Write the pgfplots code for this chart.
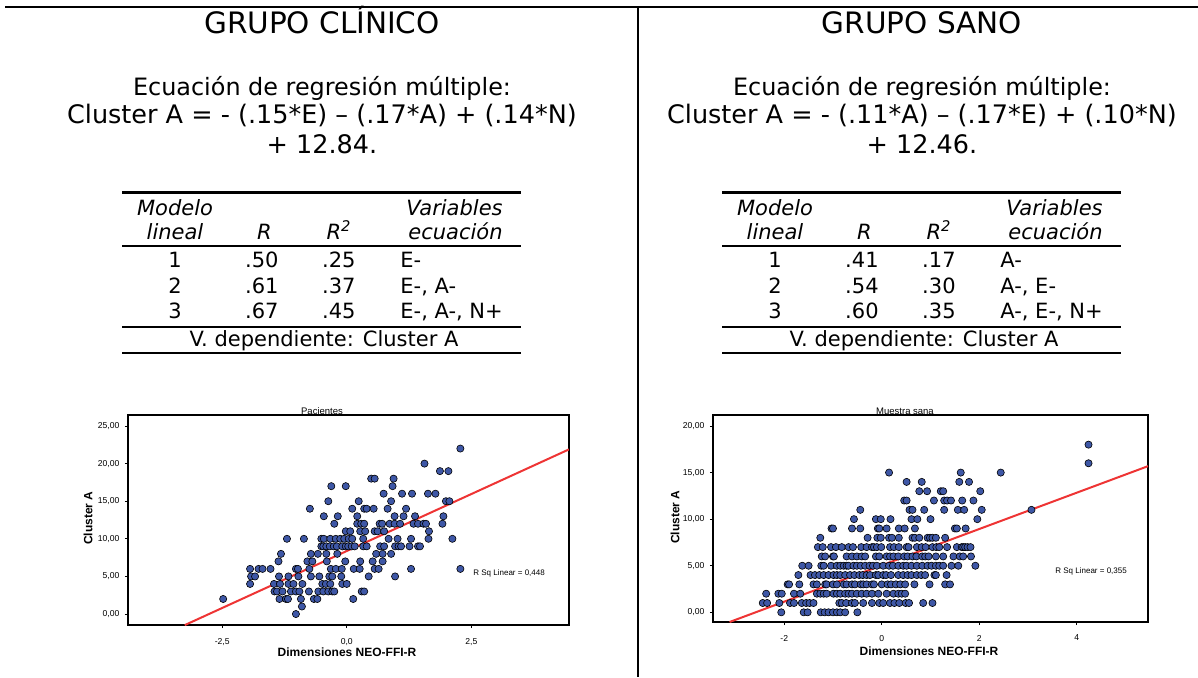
\documentclass[border=0pt]{standalone}
\usepackage{fontspec}
\setmainfont{DejaVu Sans}
\newfontfamily\arial{Liberation Sans}
\usepackage{pgfplots}
\usepackage{pgfplotstable}
\pgfplotsset{compat=1.18}

\definecolor{spssblue}{RGB}{62,87,166}
\definecolor{fitred}{RGB}{238,52,52}

% Grupo clinico: Dimensiones NEO-FFI-R (x) frente a Cluster A (y)
\pgfplotstableread[row sep=\\]{
x y\\
-1.02 0\\ -0.90 1\\
-2.48 2\\ -1.35 2\\ -1.22 2\\ -1.18 2\\ -0.92 2\\ -0.66 2\\ -0.59 2\\ 0.13 2\\
-1.45 3\\ -1.40 3\\ -1.29 3\\ -1.12 3\\ -1.02 3\\ -0.95 3\\ -0.76 3\\ -0.57 3\\ -0.47 3\\ -0.37 3\\ -0.29 3\\ -0.25 3\\ 0.30 3\\ 0.35 3\\
-1.94 4\\ -1.46 4\\ -1.34 4\\ -1.17 4\\ -1.07 4\\ -0.89 4\\ -0.49 4\\ -0.42 4\\ -0.33 4\\ -0.09 4\\ 0.00 4\\
-1.92 5\\ -1.84 5\\ -1.36 5\\ -1.17 5\\ -0.97 5\\ -0.72 5\\ -0.55 5\\ -0.35 5\\ -0.29 5\\ -0.11 5\\ 0.44 5\\ 0.97 5\\
-1.94 6\\ -1.77 6\\ -1.69 6\\ -1.53 6\\ -1.02 6\\ -0.98 6\\ -0.75 6\\ -0.32 6\\ -0.22 6\\ -0.10 6\\ 0.14 6\\ 0.26 6\\ 0.56 6\\ 0.64 6\\ 1.29 6\\ 2.28 6\\
-1.37 7\\ -0.79 7\\ -0.69 7\\ -0.40 7\\ -0.03 7\\ 0.27 7\\ 0.52 7\\ 0.72 7\\
-1.32 8\\ -0.72 8\\ -0.58 8\\ -0.41 8\\ -0.19 8\\ 0.59 8\\ 0.72 8\\ 0.89 8\\
-0.51 9\\ -0.47 9\\ -0.41 9\\ -0.34 9\\ -0.26 9\\ -0.20 9\\ -0.09 9\\ -0.02 9\\ 0.03 9\\ 0.10 9\\ 0.16 9\\ 0.33 9\\ 0.40 9\\ 0.67 9\\ 0.75 9\\ 0.97 9\\ 1.04 9\\ 1.09 9\\ 1.26 9\\ 1.43 9\\ 1.47 9\\
-1.20 10\\ -0.86 10\\ -0.51 10\\ -0.46 10\\ -0.33 10\\ -0.22 10\\ -0.13 10\\ -0.05 10\\ 0.04 10\\ 0.11 10\\ 0.33 10\\ 0.84 10\\ 1.02 10\\ 1.29 10\\ 1.64 10\\ 2.12 10\\
-0.02 11\\ 0.07 11\\ 0.27 11\\ 0.37 11\\ 0.56 11\\ 0.62 11\\ 0.75 11\\ 1.65 11\\
-0.25 12\\ 0.21 12\\ 0.29 12\\ 0.35 12\\ 0.66 12\\ 0.71 12\\ 0.86 12\\ 0.96 12\\ 1.07 12\\ 1.34 12\\ 1.43 12\\ 1.54 12\\ 1.59 12\\ 1.92 12\\
-0.46 13\\ -0.18 13\\ 0.21 13\\ 0.96 13\\ 1.14 13\\ 1.37 13\\ 1.94 13\\
-0.74 14\\ 0.11 14\\ 0.35 14\\ 0.40 14\\ 0.54 14\\ 0.82 14\\ 1.19 14\\
-0.37 15\\ 0.24 15\\ 0.89 15\\ 1.99 15\\ 2.06 15\\
0.74 16\\ 1.11 16\\ 1.31 16\\ 1.63 16\\ 1.78 16\\
-0.31 17\\ -0.02 17\\ 0.92 17\\
0.49 18\\ 0.56 18\\ 0.94 18\\
1.87 19\\ 2.04 19\\
1.56 20\\
2.28 22\\
}\clinico

% Grupo sano: Dimensiones NEO-FFI-R (x) frente a Cluster A (y)
\pgfplotstableread[row sep=\\]{
x y\\
-2.06 0\\ -1.60 0\\ -1.52 0\\ -1.25 0\\ -1.17 0\\ -1.09 0\\ -1.00 0\\ -0.92 0\\ -0.85 0\\ -0.75 0\\ -0.50 0\\
-2.44 1\\ -2.35 1\\ -2.10 1\\ -1.88 1\\ -1.80 1\\ -1.64 1\\ -1.55 1\\ -1.48 1\\ -1.40 1\\ -0.87 1\\ -0.82 1\\ -0.73 1\\ -0.61 1\\ -0.55 1\\ -0.38 1\\ -0.20 1\\ -0.05 1\\ 0.03 1\\ 0.17 1\\ 0.26 1\\ 0.36 1\\ 0.49 1\\ 0.56 1\\ 0.85 1\\ 1.04 1\\
-2.37 2\\ -2.12 2\\ -2.05 2\\ -1.80 2\\ -1.67 2\\ -1.33 2\\ -1.26 2\\ -1.19 2\\ -1.13 2\\ -0.99 2\\ -0.92 2\\ -0.85 2\\ -0.75 2\\ -0.68 2\\ -0.61 2\\ -0.51 2\\ -0.41 2\\ -0.31 2\\ -0.20 2\\ -0.07 2\\ 0.10 2\\ 0.24 2\\ 0.34 2\\ 0.41 2\\ 0.48 2\\
-1.93 3\\ -1.90 3\\ -1.69 3\\ -1.40 3\\ -1.33 3\\ -1.16 3\\ -1.13 3\\ -1.00 3\\ -0.92 3\\ -0.78 3\\ -0.72 3\\ -0.61 3\\ -0.55 3\\ -0.43 3\\ -0.38 3\\ -0.31 3\\ -0.20 3\\ -0.16 3\\ 0.00 3\\ 0.12 3\\ 0.19 3\\ 0.29 3\\ 0.38 3\\ 0.48 3\\ 0.67 3\\ 0.98 3\\ 1.30 3\\ 1.40 3\\
-1.71 4\\ -1.46 4\\ -1.37 4\\ -1.28 4\\ -1.19 4\\ -1.09 4\\ -0.99 4\\ -0.92 4\\ -0.85 4\\ -0.75 4\\ -0.65 4\\ -0.56 4\\ -0.46 4\\ -0.39 4\\ -0.31 4\\ -0.24 4\\ -0.12 4\\ -0.07 4\\ 0.03 4\\ 0.09 4\\ 0.19 4\\ 0.34 4\\ 0.44 4\\ 0.53 4\\ 0.61 4\\ 0.72 4\\ 0.81 4\\ 0.89 4\\ 1.08 4\\ 1.11 4\\ 1.33 4\\
-1.63 5\\ -1.50 5\\ -1.24 5\\ -1.19 5\\ -1.04 5\\ -0.92 5\\ -0.85 5\\ -0.78 5\\ -0.72 5\\ -0.68 5\\ -0.58 5\\ -0.51 5\\ -0.43 5\\ -0.34 5\\ -0.25 5\\ -0.18 5\\ -0.10 5\\ 0.03 5\\ 0.15 5\\ 0.23 5\\ 0.34 5\\ 0.44 5\\ 0.51 5\\ 0.61 5\\ 0.72 5\\ 0.83 5\\ 0.94 5\\ 1.02 5\\ 1.11 5\\ 1.18 5\\ 1.26 5\\ 1.43 5\\ 1.57 5\\ 1.92 5\\
-1.23 6\\ -1.16 6\\ -1.00 6\\ -0.98 6\\ -0.72 6\\ -0.61 6\\ -0.51 6\\ -0.41 6\\ -0.34 6\\ -0.12 6\\ -0.05 6\\ 0.10 6\\ 0.17 6\\ 0.24 6\\ 0.34 6\\ 0.46 6\\ 0.53 6\\ 0.63 6\\ 0.71 6\\ 0.83 6\\ 0.89 6\\ 0.96 6\\ 1.11 6\\ 1.26 6\\ 1.47 6\\ 1.60 6\\ 1.67 6\\ 1.83 6\\
-1.31 7\\ -1.21 7\\ -1.04 7\\ -0.94 7\\ -0.82 7\\ -0.68 7\\ -0.59 7\\ -0.42 7\\ -0.31 7\\ -0.20 7\\ -0.16 7\\ -0.10 7\\ -0.01 7\\ 0.17 7\\ 0.25 7\\ 0.35 7\\ 0.51 7\\ 0.55 7\\ 0.72 7\\ 0.82 7\\ 0.90 7\\ 1.04 7\\ 1.12 7\\ 1.18 7\\ 1.34 7\\ 1.54 7\\ 1.64 7\\ 1.67 7\\ 1.71 7\\ 1.76 7\\ 1.82 7\\
-1.26 8\\ -0.29 8\\ -0.09 8\\ -0.02 8\\ 0.15 8\\ 0.21 8\\ 0.35 8\\ 0.63 8\\ 0.68 8\\ 0.77 8\\ 0.94 8\\ 0.99 8\\ 1.04 8\\ 1.11 8\\ 1.30 8\\
-1.03 9\\ -1.00 9\\ -0.61 9\\ -0.44 9\\ -0.08 9\\ -0.05 9\\ 0.10 9\\ 0.35 9\\ 0.47 9\\ 0.68 9\\ 1.50 9\\ 1.54 9\\ 1.72 9\\
-0.57 10\\ -0.12 10\\ -0.02 10\\ 0.18 10\\ 0.61 10\\ 0.73 10\\ 1.00 10\\ 1.96 10\\
-0.44 11\\ 0.57 11\\ 0.63 11\\ 0.87 11\\ 1.28 11\\ 1.56 11\\ 1.69 11\\ 2.05 11\\ 3.07 11\\
0.46 12\\ 0.51 12\\ 1.07 12\\ 1.28 12\\ 1.34 12\\ 1.42 12\\ 1.65 12\\ 1.88 12\\
0.77 13\\ 0.93 13\\ 1.21 13\\ 1.26 13\\ 2.02 13\\
0.51 14\\ 0.82 14\\ 1.59 14\\ 1.79 14\\
0.15 15\\ 1.62 15\\ 2.44 15\\
4.24 16\\
4.24 18\\
}\sano

\pgfplotsset{
  spss/.style={
    scale only axis,
    axis line style={black, line width=0.6pt},
    tick align=outside,
    major tick length=1.6pt,
    tick style={black, line width=0.4pt},
    xtick pos=bottom, ytick pos=left,
    tick label style={font=\arial\fontsize{4.3pt}{5pt}\selectfont},
    xticklabel style={yshift=-1.4pt},
    yticklabel style={xshift=0.8pt},
  },
  pts/.style={only marks, mark=*, mark size=1.8pt,
    mark options={fill=spssblue, draw=black, line width=0.3pt}},
  fit/.style={fitred, line width=1pt},
}

\tikzset{
  ttl/.style={font=\fontsize{14.75pt}{17pt}\selectfont, anchor=mid, inner sep=0pt},
  eqa/.style={font=\fontsize{11.95pt}{14pt}\selectfont, anchor=mid, inner sep=0pt},
  eq/.style={font=\fontsize{12.75pt}{14pt}\selectfont, anchor=mid, inner sep=0pt},
  tb/.style={font=\fontsize{10.5pt}{12pt}\selectfont, inner sep=0pt},
  tbi/.style={font=\fontsize{10.5pt}{12pt}\selectfont\itshape, inner sep=0pt},
  ptitle/.style={font=\arial\fontsize{4.75pt}{5.5pt}\selectfont, anchor=mid, inner sep=0pt},
  plabel/.style={font=\arial\bfseries\fontsize{6pt}{7pt}\selectfont, anchor=mid, inner sep=0pt},
  rsq/.style={font=\arial\fontsize{4pt}{5pt}\selectfont, anchor=mid west, inner sep=0pt},
}

\begin{document}
\begin{tikzpicture}
\path[use as bounding box] (0,0) rectangle (599pt,338.5pt);

% ---------- Scatter: grupo clinico ----------
\begin{axis}[spss, at={(64pt,26pt)}, anchor=south west,
  width=220.5pt, height=105pt,
  xmin=-4.39, xmax=4.46, ymin=-1.46, ymax=26.46,
  xtick={-2.5,0,2.5}, xticklabels={{-2,5},{0,0},{2,5}},
  ytick={0,5,10,15,20,25},
  yticklabels={{0,00},{5,00},{10,00},{15,00},{20,00},{25,00}}]
  \addplot[pts] table {\clinico};
  \addplot[fit] coordinates {(-3.25,-1.47) (4.46,21.89)};
\end{axis}

% ---------- Scatter: grupo sano ----------
\begin{axis}[spss, at={(356.5pt,27.5pt)}, anchor=south west,
  width=217.5pt, height=103.5pt,
  xmin=-3.46, xmax=5.46, ymin=-1.04, ymax=21.18,
  xtick={-2,0,2,4}, xticklabels={-2,0,2,4},
  ytick={0,5,10,15,20},
  yticklabels={{0,00},{5,00},{10,00},{15,00},{20,00}}]
  \addplot[pts] table {\sano};
  \addplot[fit] coordinates {(-3.12,-1.04) (5.46,15.69)};
\end{axis}

% ---------- Texts and rules, laid out in pixel units from the top left ----------
\begin{scope}[shift={(0pt,338.5pt)}, x=0.5pt, y=-0.5pt]
  % frame lines
  \draw[line width=1pt] (5,7) -- (1198,7);
  \draw[line width=1pt] (638,7) -- (638,677);

  % headings and equations
  \node[ttl] at (322,28) {GRUPO CLÍNICO};
  \node[eqa] at (322,90) {Ecuación de regresión múltiple:};
  \node[eq] at (322,118) {Cluster A = - (.15*E) – (.17*A) + (.14*N)};
  \node[eq] at (322,148) {+ 12.84.};

  \node[ttl] at (922,28) {GRUPO SANO};
  \node[eqa] at (922,90) {Ecuación de regresión múltiple:};
  \node[eq] at (922,118) {Cluster A = - (.11*A) – (.17*E) + (.10*N)};
  \node[eq] at (922,148) {+ 12.46.};

  % regression summary tables
  \foreach \dx/\ra/\rb/\rc/\qa/\qb/\qc/\va/\vb/\vc in {
      0/.50/.61/.67/.25/.37/.45/{E-}/{E-, A-}/{E-, A-, N+},
      600/.41/.54/.60/.17/.30/.35/{A-}/{A-, E-}/{A-, E-, N+}}{
    \begin{scope}[xshift=\dx*0.5pt]
      \draw[line width=1.5pt] (122,192) -- (521,192);
      \draw[line width=0.75pt] (122,246) -- (521,246);
      \draw[line width=1pt] (122,327) -- (521,327);
      \draw[line width=1pt] (122,353) -- (521,353);
      \node[tbi, anchor=mid] at (175,210) {Modelo};
      \node[tbi, anchor=mid] at (175,234) {lineal};
      \node[tbi, anchor=mid east] at (272,234) {R};
      \node[tbi, anchor=mid] at (339,234) {R\textsuperscript{2}};
      \node[tbi, anchor=mid east] at (503,210) {Variables};
      \node[tbi, anchor=mid east] at (503,234) {ecuación};
      \node[tb, anchor=mid] at (175,262) {1};
      \node[tb, anchor=mid] at (175,288) {2};
      \node[tb, anchor=mid] at (175,313) {3};
      \node[tb, anchor=mid east] at (279,262) {\ra};
      \node[tb, anchor=mid east] at (279,288) {\rb};
      \node[tb, anchor=mid east] at (279,313) {\rc};
      \node[tb, anchor=mid east] at (356,262) {\qa};
      \node[tb, anchor=mid east] at (356,288) {\qb};
      \node[tb, anchor=mid east] at (356,313) {\qc};
      \node[tb, anchor=mid west] at (400,262) {\va};
      \node[tb, anchor=mid west] at (400,288) {\vb};
      \node[tb, anchor=mid west] at (400,313) {\vc};
      \node[tb, anchor=mid] at (324,341) {V. dependiente: Cluster A};
    \end{scope}
  }

  % scatter titles, axis labels and fit notes
  \node[ptitle] at (322,409) {Pacientes};
  \node[plabel, rotate=90] at (87,518) {Cluster A};
  \node[plabel] at (347,651) {Dimensiones NEO-FFI-R};
  \node[rsq] at (473,570) {R Sq Linear = 0,448};

  \node[ptitle] at (905,409) {Muestra sana};
  \node[plabel, rotate=90] at (674,517) {Cluster A};
  \node[plabel] at (929,650) {Dimensiones NEO-FFI-R};
  \node[rsq] at (1055,568) {R Sq Linear = 0,355};
\end{scope}
\end{tikzpicture}
\end{document}
